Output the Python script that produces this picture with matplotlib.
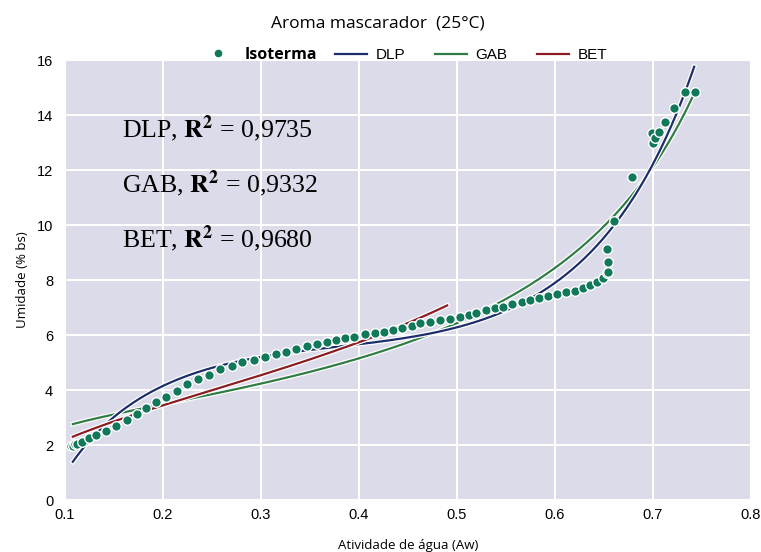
import numpy as np
import matplotlib
matplotlib.use("Agg")
import matplotlib.pyplot as plt
import matplotlib.patheffects as pe
from matplotlib.lines import Line2D

# Experimental sorption isotherm, aroma mascarador at 25 °C
aw_exp = [0.106, 0.108, 0.110, 0.112, 0.117, 0.124, 0.132, 0.142, 0.152, 0.163,
          0.173, 0.183, 0.193, 0.203, 0.214, 0.225, 0.236, 0.247, 0.258, 0.270,
          0.281, 0.293, 0.304, 0.315, 0.326, 0.336, 0.347, 0.357, 0.367, 0.377,
          0.386, 0.395, 0.406, 0.416, 0.425, 0.435, 0.444, 0.454, 0.462, 0.472,
          0.483, 0.493, 0.503, 0.512, 0.519, 0.530, 0.539, 0.547, 0.556, 0.566,
          0.574, 0.584, 0.593, 0.602, 0.611, 0.620, 0.629, 0.636, 0.643, 0.649,
          0.653, 0.654, 0.654, 0.653, 0.660, 0.679, 0.699, 0.700, 0.702, 0.706,
          0.712, 0.721, 0.733, 0.743]
m_exp = [1.95, 1.98, 2.02, 2.05, 2.12, 2.24, 2.36, 2.52, 2.69, 2.91,
         3.12, 3.36, 3.58, 3.76, 3.98, 4.21, 4.39, 4.55, 4.75, 4.87,
         5.01, 5.09, 5.21, 5.31, 5.39, 5.48, 5.60, 5.66, 5.73, 5.81,
         5.88, 5.94, 6.02, 6.06, 6.10, 6.18, 6.24, 6.33, 6.42, 6.48,
         6.55, 6.57, 6.64, 6.73, 6.79, 6.91, 6.97, 7.03, 7.13, 7.21,
         7.27, 7.33, 7.43, 7.49, 7.55, 7.61, 7.70, 7.82, 7.94, 8.06,
         8.24, 8.30, 8.64, 9.12, 10.16, 11.76, 13.33, 12.97, 13.15, 13.39,
         13.76, 14.24, 14.85, 14.85]

# Fitted model parameters
dlp_coef = [-5.127, -0.4675, -1.522, 5.532]   # b3, b2, b1, b0 in ln(-ln aw)
dlp_range = [0.108, 0.742]
gab_params = [3.085, 29.07, 1.069]            # Mo, C, K
gab_range = [0.108, 0.742]
bet_params = [4.05, 8.5]                      # Mo, C
bet_range = [0.108, 0.49]

r2_labels = ["DLP", "GAB", "BET"]
r2_values = ["0,9735", "0,9332", "0,9680"]

x_ticks = [0.1, 0.2, 0.3, 0.4, 0.5, 0.6, 0.7, 0.8]
y_ticks = [0, 2, 4, 6, 8, 10, 12, 14, 16]


def dlp(aw):
    return np.polyval(dlp_coef, np.log(-np.log(aw)))


def gab(aw):
    mo, c, k = gab_params
    return mo * c * k * aw / ((1 - k * aw) * (1 - k * aw + c * k * aw))


def bet(aw):
    mo, c = bet_params
    return mo * c * aw / ((1 - aw) * (1 + (c - 1) * aw))


plt.rcParams["mathtext.fontset"] = "stix"

W, H = 761, 552
fig = plt.figure(figsize=(W / 100, H / 100), dpi=100)
ax = fig.add_axes([0.0854, 0.0942, 0.9015, 0.7971])
ax.set_facecolor("#dbdbea")
for s in ax.spines.values():
    s.set_visible(False)
ax.grid(True, color="white", lw=1.4)
ax.set_axisbelow(True)

halo = [pe.Stroke(linewidth=3.4, foreground="white"), pe.Normal()]
col_pts = "#11785a"
col_dlp = "#1c2d6b"
col_gab = "#2f7d45"
col_bet = "#8a1c22"

for fn, rng, col in [(gab, gab_range, col_gab), (dlp, dlp_range, col_dlp),
                     (bet, bet_range, col_bet)]:
    a = np.linspace(rng[0], rng[1], 300)
    ax.plot(a, fn(a), color=col, lw=1.6, zorder=3, path_effects=halo)

ax.scatter(aw_exp, m_exp, s=48, color=col_pts, edgecolor="white",
           linewidth=1.0, zorder=4)

ax.set_xlim(0.1, 0.8)
ax.set_ylim(0, 16)
ax.set_xticks(x_ticks)
ax.set_yticks(y_ticks)
ax.set_xticklabels([f"{v:.1f}" for v in x_ticks], family="Liberation Sans",
                   fontsize=10.5)
ax.set_yticklabels([str(v) for v in y_ticks], family="Liberation Sans",
                   fontsize=10.5)
ax.tick_params(axis="x", length=0, pad=6)
ax.tick_params(axis="y", length=0, pad=8.5)

ax.set_xlabel("Atividade de água (Aw)", family="Open Sans", fontsize=9.5,
              labelpad=12)
ax.set_ylabel("Umidade (% bs)", family="Open Sans", fontsize=9.5,
              labelpad=5.5)

fig.text(0.497, 0.958, "Aroma mascarador  (25°C)", family="Open Sans",
         fontsize=12.5, ha="center", va="center")

for i, (lab, val) in enumerate(zip(r2_labels, r2_values)):
    ax.text(0.158, 13.5 - 2 * i,
            lab + r", $\mathbf{R}^{\mathbf{2}}$" + " = " + val,
            family="Liberation Serif", fontsize=18.6, va="center", ha="left",
            zorder=5)

# Legend: scatter entry and model-line entries laid out along the top edge
leg_y = 1 - 55 / H
pt_handle = Line2D([], [], ls="none", marker="o", ms=6.5, color=col_pts,
                   markeredgecolor="white")
leg1 = fig.legend([pt_handle], ["Isoterma"], loc="center left",
                  bbox_to_anchor=(208 / W, leg_y), frameon=False,
                  borderpad=0, borderaxespad=0, handlelength=1.2,
                  handletextpad=1.1,
                  prop={"family": "Open Sans", "weight": "bold",
                        "size": 11.5})

line_handles = [Line2D([], [], color=c, lw=1.6)
                for c in (col_dlp, col_gab, col_bet)]
leg2 = fig.legend(line_handles, ["DLP", "GAB", "BET"], ncol=3,
                  loc="center left", bbox_to_anchor=(335 / W, leg_y),
                  frameon=False, borderpad=0, borderaxespad=0,
                  handlelength=2.09, handletextpad=0.59, columnspacing=1.9,
                  prop={"family": "Liberation Sans", "size": 11})

fig.savefig("out.png", dpi=100)
